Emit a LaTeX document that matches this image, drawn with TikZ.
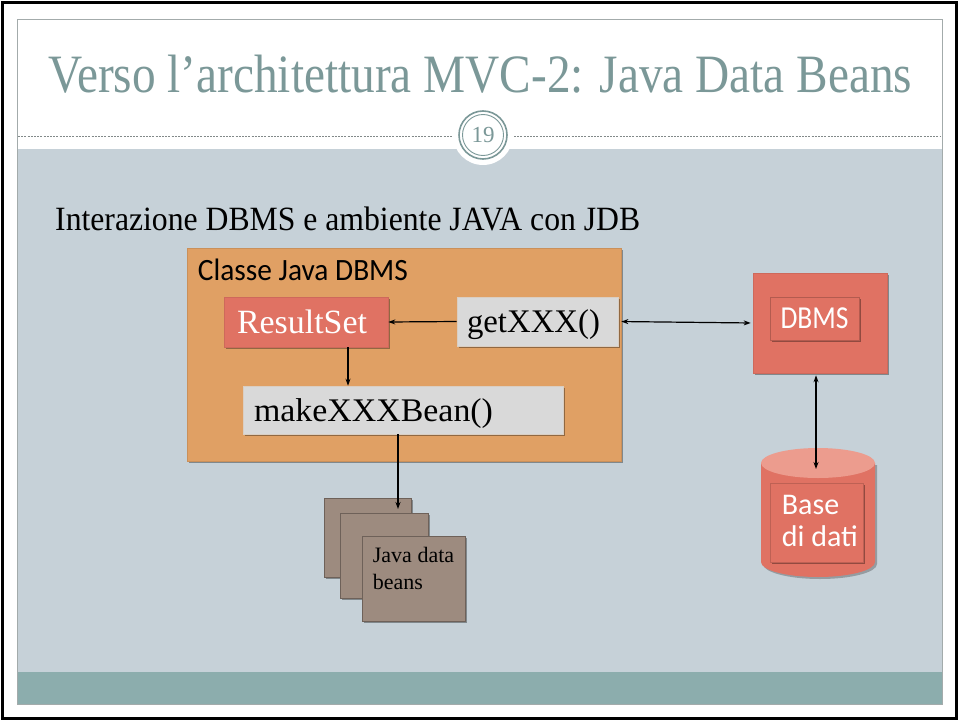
\documentclass[tikz,border=0pt]{standalone}
\usepackage{fontspec}
\setmainfont{Liberation Serif}
\newfontfamily\sansf{Carlito}
\usetikzlibrary{arrows.meta,shadows}
\definecolor{panelcol}{HTML}{C6D1D8}
\definecolor{titlecol}{HTML}{7B9898}
\definecolor{bandcol}{HTML}{8CADAD}
\definecolor{framecol}{HTML}{A3ABAB}
\definecolor{orangecol}{HTML}{E0A064}
\definecolor{salmcol}{HTML}{E07263}
\definecolor{salmtop}{HTML}{EC9C8E}
\definecolor{graycol}{HTML}{D9D9D9}
\definecolor{beancol}{HTML}{9D8B7F}
\newcommand{\fs}[1]{\fontsize{#1}{#1}\selectfont}
\newcommand{\fitw}[2]{\resizebox{#1}{\height}{#2}}

\begin{document}
\begin{tikzpicture}[x=1pt,y=-1pt,>={Stealth[length=7pt,width=5pt]},
  shad/.style={drop shadow={shadow xshift=2pt,shadow yshift=-2pt,opacity=.35,fill=black}},
  graybox/.style={fill=graycol,draw=graycol!80!orangecol,line width=.6,inner sep=0,shad},
  redbox/.style={fill=salmcol,draw=salmcol!92!black,line width=.6,inner sep=0,shad},
  beanbox/.style={fill=beancol,draw=beancol!70!black,line width=.6,inner sep=0,shad},
  lbl/.style={anchor=base west,inner sep=0},
  arr/.style={line width=1.2}]
\useasboundingbox (0,0) rectangle (960,725);
\fill[white] (0,0) rectangle (960,725);
% slide
\fill[panelcol] (17,149) rectangle (942,672);
\fill[bandcol] (17,672) rectangle (942,704);
\draw[framecol,line width=.8] (17,19) rectangle (942,704);
\draw[black,line width=3] (2.5,3) rectangle (956.5,718.5);
\draw[framecol!80!black,dash pattern=on 2pt off 1.2pt,line width=.6] (18,136) -- (941,136);
\node[lbl,text=titlecol] (title) at (48,92)
  {\fs{54}\fitw{864pt}{Verso l’architettura MVC-2: Java Data Beans}};
\fill[white] (483,135) circle[radius=30];
\draw[titlecol,line width=1.6] (483,135) circle[radius=24];
\draw[titlecol,line width=.9] (483,135) circle[radius=20.5];
\node[text=titlecol,inner sep=0,font=\fs{23}] (num) at (483,135) {19};
\node[lbl] (sub) at (55,230)
  {\fs{34}\fitw{585pt}{Interazione DBMS e ambiente JAVA con JDB}};

% classe java
\node[fill=orangecol,draw=orangecol!90!black,line width=.6,shad,
  minimum width=434,minimum height=213,inner sep=0] (cls) at (404,354.5) {};
\node[lbl] (clst) at ([xshift=11pt,yshift=-33pt]cls.north west)
  {\sansf\fs{31}\fitw{210pt}{Classe Java DBMS}};
\node[redbox,minimum width=164,minimum height=50,text width=138,inner xsep=13,
  align=left,text=white,text depth=0pt] (rs) at (306,322) {\fs{34}\fitw{130pt}{ResultSet}};
\node[graybox,minimum width=161,minimum height=49,text width=141,inner xsep=10,
  align=left,text depth=0pt] (get) at (537.5,321.5) {\fs{33}\fitw{133pt}{getXXX()}};
\node[graybox,minimum width=320,minimum height=48,text width=298,inner xsep=11,
  align=left,text depth=0pt] (mk) at (403,410) {\fs{33}\fitw{239pt}{makeXXXBean()}};

% dbms
\node[redbox,minimum width=134,minimum height=100] (dbms) at (820,323) {};
\node[redbox,draw=salmcol!80!black,minimum width=89,minimum height=43,
  text=white,text depth=0pt] (dbmst) at (814.5,318.5) {\sansf\fs{32}\fitw{68pt}{DBMS}};

% base di dati
\fill[black,opacity=.25] (763,465) -- (763,564)
  arc[start angle=180,end angle=0,x radius=57,y radius=15] -- (877,465) -- cycle;
\fill[salmcol] (761,463) -- (761,562)
  arc[start angle=180,end angle=0,x radius=57,y radius=15] -- (875,463) -- cycle;
\fill[salmtop] (818,463) ellipse[x radius=57,y radius=15];
\node[redbox,draw=salmcol!85!black,minimum width=93,minimum height=79] (db) at (816.5,522.5) {};
\node[lbl,text=white,font=\sansf\fs{30}] (dbt1) at ([xshift=12pt,yshift=-32pt]db.north west) {Base};
\node[lbl,text=white,font=\sansf\fs{30}] (dbt2) at ([xshift=12pt,yshift=-64pt]db.north west) {di dati};
\coordinate (dbtop) at (816,469);

% java data beans
\node[beanbox,minimum width=87,minimum height=79] (b1) at (367.5,537.5) {};
\node[beanbox,minimum width=88,minimum height=85] (b2) at (384,555.5) {};
\node[beanbox,minimum width=103,minimum height=85] (b3) at (413.5,578.5) {};
\node[lbl,font=\fs{22}] (b3t1) at ([xshift=11pt,yshift=-27pt]b3.north west) {Java data};
\node[lbl,font=\fs{22}] (b3t2) at ([xshift=11pt,yshift=-54pt]b3.north west) {beans};
\coordinate (beanin) at (398,509);

% connectors
\draw[arr,->] (get.west) -- (rs.east);
\draw[arr,->] ([xshift=42pt]rs.south) -- ([xshift=42pt]rs.south |- mk.north);
\draw[arr,->] (mk.south -| beanin) -- (beanin);
\draw[arr,<->,shorten <=3pt,shorten >=2pt] (get.east) -- (dbms.west);
\draw[arr,<->,shorten <=2pt] (dbms.south -| dbtop) -- (dbtop);
\end{tikzpicture}
\end{document}
